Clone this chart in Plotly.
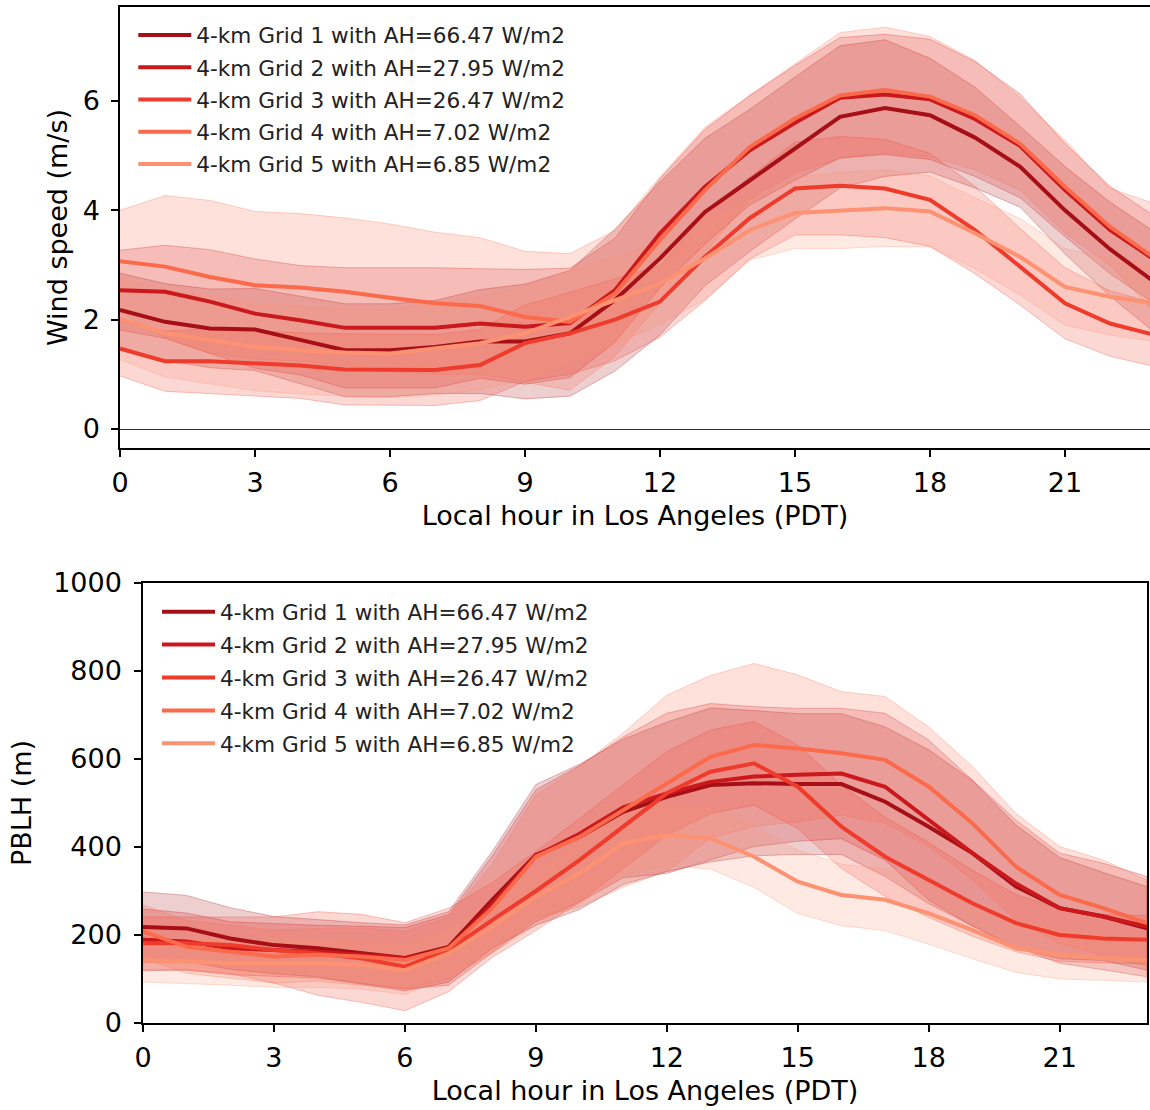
import plotly.graph_objects as go

hours = list(range(24))
names = ["4-km Grid 1 with AH=66.47 W/m2", "4-km Grid 2 with AH=27.95 W/m2",
         "4-km Grid 3 with AH=26.47 W/m2", "4-km Grid 4 with AH=7.02 W/m2",
         "4-km Grid 5 with AH=6.85 W/m2"]
colors = ["#a50f15", "#cb181d", "#ef3b2c", "#fb6a4a", "#fc9272"]

# Wind speed (m/s): hourly means
ws_g1 = [2.18,1.96,1.84,1.82,1.63,1.44,1.44,1.50,1.60,1.60,1.75,2.36,3.12,3.97,4.55,5.14,5.71,5.87,5.74,5.33,4.80,4.00,3.29,2.68]
ws_g2 = [2.54,2.51,2.33,2.11,1.99,1.85,1.85,1.85,1.93,1.87,1.94,2.54,3.58,4.43,5.10,5.60,6.06,6.12,6.03,5.67,5.18,4.37,3.64,3.09]
ws_g3 = [1.47,1.24,1.24,1.20,1.16,1.09,1.08,1.08,1.17,1.57,1.75,2.00,2.33,3.15,3.86,4.40,4.45,4.40,4.19,3.64,2.97,2.30,1.93,1.72]
ws_g4 = [3.07,2.97,2.78,2.63,2.59,2.51,2.40,2.30,2.25,2.05,1.96,2.48,3.46,4.37,5.16,5.68,6.10,6.20,6.08,5.74,5.22,4.43,3.70,3.12]
ws_g5 = [2.02,1.75,1.63,1.50,1.44,1.40,1.38,1.47,1.57,1.75,2.05,2.36,2.66,3.12,3.64,3.95,4.00,4.04,3.98,3.58,3.15,2.60,2.42,2.30]
# Wind speed: half-width of shaded band
ws_s1 = [0.67,0.70,0.72,0.75,0.80,0.85,0.85,0.85,0.95,1.05,1.15,1.30,1.40,1.35,1.30,1.30,1.30,1.25,1.04,0.92,0.74,0.80,0.86,0.92]
ws_s2 = [0.73,0.85,0.95,1.00,1.00,1.10,1.10,1.10,1.00,1.05,1.00,0.95,1.00,1.05,1.00,1.05,1.10,1.10,1.10,1.05,0.95,0.85,0.80,0.80]
ws_s3 = [0.50,0.55,0.60,0.60,0.60,0.65,0.65,0.65,0.65,0.70,0.75,0.75,0.65,0.80,0.75,0.85,0.90,0.90,0.85,0.80,0.70,0.65,0.60,0.58]
ws_s4 = [0.93,1.30,1.40,1.35,1.35,1.35,1.35,1.30,1.25,1.20,1.25,1.15,1.15,1.15,0.95,1.00,1.15,1.15,1.10,1.00,0.85,0.85,0.70,1.00]
ws_s5 = [0.75,0.80,0.80,0.80,0.80,0.80,0.80,0.85,0.85,0.85,0.85,0.80,0.75,0.75,0.55,0.65,0.70,0.70,0.65,0.65,0.70,0.70,0.70,0.70]

# PBLH (m): hourly means
pb_g1 = [218,215,192,177,170,158,148,173,280,382,423,480,514,541,545,543,543,503,446,386,310,261,242,215]
pb_g2 = [189,185,170,166,162,155,147,166,270,380,430,490,522,548,560,564,567,537,461,386,317,261,242,219]
pb_g3 = [181,181,177,166,158,147,128,166,234,300,370,446,522,571,590,537,446,378,325,272,227,200,192,189]
pb_g4 = [208,173,162,151,155,151,143,170,261,378,423,484,545,605,632,624,613,598,537,454,355,291,261,227]
pb_g5 = [143,139,136,136,136,132,120,158,219,287,340,408,427,420,378,321,291,280,249,211,170,155,147,143]
# PBLH: half-width of shaded band
pb_s1 = [80,75,70,65,65,70,75,80,110,160,165,165,170,175,165,160,160,170,175,165,140,115,100,95]
pb_s2 = [70,65,60,60,60,65,70,80,110,150,155,160,182,178,159,151,148,167,182,166,144,125,121,114]
pb_s3 = [60,60,65,75,95,100,100,95,85,90,95,95,95,95,95,95,95,90,85,75,65,60,55,55]
pb_s4 = [60,60,60,60,60,65,65,70,100,140,160,175,200,185,185,167,140,144,136,129,121,110,109,98]
pb_s5 = [50,50,50,55,55,55,55,55,60,65,70,70,70,70,70,72,70,70,70,65,55,55,50,50]

ws_means = [ws_g1, ws_g2, ws_g3, ws_g4, ws_g5]
ws_sprd = [ws_s1, ws_s2, ws_s3, ws_s4, ws_s5]
pb_means = [pb_g1, pb_g2, pb_g3, pb_g4, pb_g5]
pb_sprd = [pb_s1, pb_s2, pb_s3, pb_s4, pb_s5]

FONT = "DejaVu Sans"
W, H = 1150, 1110


def rgba(hexc, a):
    h = hexc.lstrip("#")
    r, g, b = int(h[0:2], 16), int(h[2:4], 16), int(h[4:6], 16)
    return f"rgba({r},{g},{b},{a})"


fig = go.Figure()

panels = [("x", "y", "legend", ws_means, ws_sprd, "t"),
          ("x2", "y2", "legend2", pb_means, pb_sprd, "b")]

for xa, ya, leg, means, sprd, tag in panels:
    for m, s, c in zip(means, sprd, colors):
        up = [a + b for a, b in zip(m, s)]
        lo = [a - b for a, b in zip(m, s)]
        fig.add_trace(go.Scatter(
            x=hours + hours[::-1], y=up + lo[::-1], xaxis=xa, yaxis=ya,
            fill="toself", fillcolor=rgba(c, 0.2),
            line=dict(color=rgba(c, 0.3), width=1),
            mode="lines", showlegend=False, hoverinfo="skip"))
    for i, (m, c, n) in enumerate(zip(means, colors, names)):
        fig.add_trace(go.Scatter(
            x=hours, y=m, xaxis=xa, yaxis=ya, mode="lines", name=n,
            line=dict(color=c, width=4), legend=leg,
            legendgroup=f"{tag}{i}"))

FS = 27
axis_common = dict(showgrid=False, ticks="outside", ticklen=7, tickwidth=1.5,
                   tickcolor="black", showline=True, linecolor="black",
                   linewidth=1.5, automargin=False,
                   tickfont=dict(family=FONT, size=FS, color="black"))
title_font = dict(family=FONT, size=FS, color="black")

px_per_h_top = 45.0
top_px_per_unit = 54.67
leg_font = dict(family=FONT, size=21.6, color="#222")
fig.update_layout(
    width=W, height=H, margin=dict(l=0, r=0, t=0, b=0, autoexpand=False),
    paper_bgcolor="white", plot_bgcolor="white",
    font=dict(family=FONT, color="black"),
    xaxis=dict(domain=[120 / W, 1.0], anchor="y", range=[0, 1030 / px_per_h_top],
               tickvals=list(range(0, 22, 3)), mirror=True, zeroline=False,
               ticklabelstandoff=3,
               title=dict(text="Local hour in Los Angeles (PDT)", font=title_font, standoff=9),
               **axis_common),
    yaxis=dict(domain=[1 - 448 / H, 1 - 7 / H], anchor="x",
               range=[-(448 - 429) / top_px_per_unit, (429 - 7) / top_px_per_unit],
               tickvals=[0, 2, 4, 6], mirror=False, zeroline=True,
               zerolinecolor="#333333", zerolinewidth=1.2, ticklabelstandoff=6,
               title=dict(text="Wind speed (m/s)", font=title_font, standoff=7),
               **axis_common),
    xaxis2=dict(domain=[143 / W, 1147 / W], anchor="y2", range=[0, 23],
                tickvals=list(range(0, 22, 3)), mirror=True, zeroline=False,
                ticklabelstandoff=3,
                title=dict(text="Local hour in Los Angeles (PDT)", font=title_font, standoff=9),
                **axis_common),
    yaxis2=dict(domain=[1 - 1023 / H, 1 - 583 / H], anchor="x2", range=[0, 1000],
                tickvals=[0, 200, 400, 600, 800, 1000], mirror=True, zeroline=False,
                ticklabelstandoff=7,
                title=dict(text="PBLH (m)", font=title_font, standoff=14),
                **axis_common),
    legend=dict(x=133.3 / W, y=1 - 14.4 / H, xanchor="left", yanchor="top",
                bgcolor="rgba(0,0,0,0)", font=leg_font,
                tracegroupgap=1.2, itemwidth=53),
    legend2=dict(x=157 / W, y=1 - 591.2 / H, xanchor="left", yanchor="top",
                 bgcolor="rgba(0,0,0,0)", font=leg_font,
                 tracegroupgap=1.8, itemwidth=53),
)

fig.write_html("out.html")
